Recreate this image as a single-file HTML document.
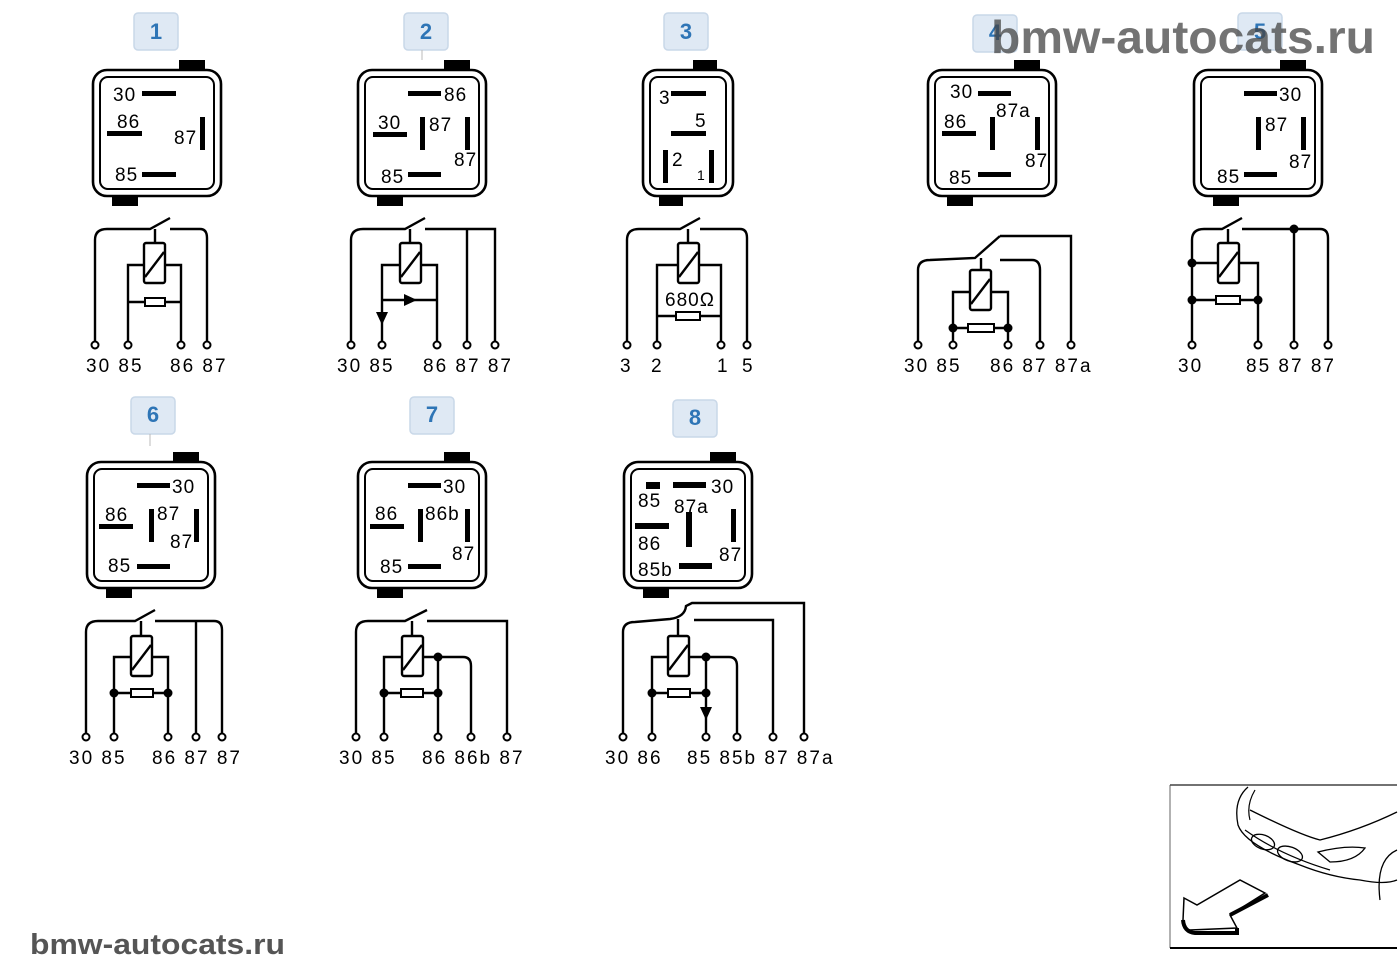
<!DOCTYPE html>
<html><head><meta charset="utf-8"><style>
html,body{margin:0;padding:0;background:#fff;}
svg{display:block;font-family:"Liberation Sans",sans-serif;}
.b{fill:#dfe9f4;stroke:#c9d8e8;stroke-width:1.5;}
.bt{fill:#2e75b6;font-weight:bold;font-size:22px;text-anchor:middle;}
.o{fill:none;stroke:#000;stroke-width:2.6;}
.i{fill:none;stroke:#000;stroke-width:2;}
.w{fill:none;stroke:#000;stroke-width:2.4;}
.t{font-size:19px;fill:#000;letter-spacing:1px;}
.l{font-size:19px;fill:#000;letter-spacing:2px;}
.c{fill:#fff;stroke:#000;stroke-width:2;}
.d{fill:#000;}
</style></head><body>
<svg width="1400" height="980" viewBox="0 0 1400 980" xmlns="http://www.w3.org/2000/svg">
<defs>
<g id="box">
<rect x="0" y="0" width="128" height="126" rx="14" class="o"/>
<rect x="7" y="7" width="114" height="112" rx="8" class="i"/>
<rect x="86" y="-10" width="26" height="10" class="d"/>
<rect x="19" y="126" width="26" height="10" class="d"/>
</g>
<g id="boxn">
<rect x="0" y="0" width="90" height="126" rx="14" class="o"/>
<rect x="7" y="7" width="76" height="112" rx="8" class="i"/>
<rect x="50" y="-10" width="24" height="10" class="d"/>
<rect x="16" y="126" width="24" height="10" class="d"/>
</g>
</defs>

<g>
<rect class="b" x="134" y="13" width="44" height="37" rx="4"/><text class="bt" x="156" y="39">1</text>
<rect class="b" x="404" y="13" width="44" height="37" rx="4"/><text class="bt" x="426" y="39">2</text><line x1="422" y1="50" x2="422" y2="60" stroke="#bbb"/>
<rect class="b" x="664" y="13" width="44" height="37" rx="4"/><text class="bt" x="686" y="39">3</text>
<rect class="b" x="973" y="15" width="44" height="37" rx="4"/><text class="bt" x="995" y="40">4</text>
<rect class="b" x="1238" y="13" width="44" height="37" rx="4"/><text class="bt" x="1260" y="39">5</text>
<rect class="b" x="131" y="397" width="44" height="37" rx="4"/><text class="bt" x="153" y="422">6</text><line x1="150" y1="434" x2="150" y2="446" stroke="#bbb"/>
<rect class="b" x="410" y="397" width="44" height="37" rx="4"/><text class="bt" x="432" y="422">7</text>
<rect class="b" x="673" y="400" width="44" height="37" rx="4"/><text class="bt" x="695" y="425">8</text>
</g>

<!-- Relay 1 -->
<g transform="translate(93,70)"><use href="#box"/>
<text class="t" x="20" y="31">30</text><rect x="49" y="21" width="34" height="5" class="d"/>
<text class="t" x="24" y="58">86</text><rect x="14" y="61" width="35" height="5" class="d"/>
<text class="t" x="81" y="74">87</text><rect x="107" y="47" width="5" height="33" class="d"/>
<text class="t" x="22" y="111">85</text><rect x="49" y="102" width="34" height="5" class="d"/>
</g>
<g>
<path class="w" d="M95,345 V240 Q95,229 107,229 L150,229 L170,218"/>
<path class="w" d="M155,229 V243 M170,229 H200 Q207,229 207,238 V345"/>
<rect x="144" y="243" width="21" height="40" class="w" fill="#fff" rx="2"/><line x1="145" y1="277" x2="164" y2="252" class="w"/>
<path class="w" d="M144,265 H128 V345 M165,265 H181 V345 M128,302 H181"/>
<rect x="145" y="298" width="20" height="8" class="c"/>
<circle class="c" cx="95" cy="345" r="3.5"/><circle class="c" cx="128" cy="345" r="3.5"/><circle class="c" cx="181" cy="345" r="3.5"/><circle class="c" cx="207" cy="345" r="3.5"/>
<text class="l" x="86" y="372">30 85</text><text class="l" x="170" y="372">86 87</text>
</g>

<!-- Relay 2 -->
<g transform="translate(358,70)"><use href="#box"/>
<rect x="50" y="21" width="33" height="5" class="d"/><text class="t" x="86" y="31">86</text>
<text class="t" x="20" y="59">30</text><rect x="15" y="62" width="34" height="5" class="d"/>
<rect x="62" y="47" width="5" height="33" class="d"/><text class="t" x="71" y="61">87</text>
<rect x="107" y="47" width="5" height="33" class="d"/><text class="t" x="96" y="96">87</text>
<text class="t" x="23" y="113">85</text><rect x="50" y="102" width="33" height="5" class="d"/>
</g>
<g>
<path class="w" d="M351,345 V240 Q351,229 363,229 L405,229 L425,218"/>
<path class="w" d="M410,229 V243 M425,229 H495 V345 M467,229 V345"/>
<rect x="400" y="243" width="21" height="40" class="w" fill="#fff" rx="2"/><line x1="401" y1="277" x2="420" y2="252" class="w"/>
<path class="w" d="M400,265 H382 V345 M421,265 H437 V345 M382,300 H437"/>
<path class="d" d="M376,312 L388,312 L382,325 Z"/><path class="d" d="M404,294 L404,306 L417,300 Z"/>
<circle class="c" cx="351" cy="345" r="3.5"/><circle class="c" cx="382" cy="345" r="3.5"/><circle class="c" cx="437" cy="345" r="3.5"/><circle class="c" cx="467" cy="345" r="3.5"/><circle class="c" cx="495" cy="345" r="3.5"/>
<text class="l" x="337" y="372">30  85</text><text class="l" x="423" y="372">86 87 87</text>
</g>

<!-- Relay 3 -->
<g transform="translate(643,70)"><use href="#boxn"/>
<text class="t" x="16" y="34">3</text><rect x="28" y="21" width="35" height="5" class="d"/>
<text class="t" x="52" y="57">5</text><rect x="28" y="61" width="35" height="5" class="d"/>
<rect x="20" y="80" width="5" height="33" class="d"/><text class="t" x="29" y="96">2</text>
<rect x="66" y="80" width="5" height="33" class="d"/><text class="t" x="54" y="110" style="font-size:14px">1</text>
</g>
<g>
<path class="w" d="M627,345 V240 Q627,229 639,229 L680,229 L700,218"/>
<path class="w" d="M688,229 V243 M700,229 H740 Q747,229 747,238 V345"/>
<rect x="678" y="243" width="21" height="40" class="w" fill="#fff" rx="2"/><line x1="679" y1="277" x2="698" y2="252" class="w"/>
<path class="w" d="M678,265 H657 V345 M699,265 H721 V345 M657,316 H721"/>
<rect x="676" y="312" width="24" height="8" class="c"/>
<text class="t" x="665" y="306">680Ω</text>
<circle class="c" cx="627" cy="345" r="3.5"/><circle class="c" cx="657" cy="345" r="3.5"/><circle class="c" cx="721" cy="345" r="3.5"/><circle class="c" cx="747" cy="345" r="3.5"/>
<text class="l" x="620" y="372">3</text><text class="l" x="651" y="372">2</text><text class="l" x="717" y="372">1</text><text class="l" x="742" y="372">5</text>
</g>

<!-- Relay 4 -->
<g transform="translate(928,70)"><use href="#box"/>
<text class="t" x="22" y="28">30</text><rect x="50" y="21" width="33" height="5" class="d"/>
<text class="t" x="68" y="47">87a</text>
<text class="t" x="16" y="58">86</text><rect x="14" y="61" width="34" height="5" class="d"/>
<rect x="62" y="47" width="5" height="33" class="d"/>
<rect x="107" y="47" width="5" height="33" class="d"/><text class="t" x="97" y="97">87</text>
<text class="t" x="21" y="114">85</text><rect x="50" y="102" width="33" height="5" class="d"/>
</g>
<g>
<path class="w" d="M918,345 V270 Q918,260 930,260 L975,258 L1000,236"/>
<path class="w" d="M1000,236 H1071 V345 M981,258 V270 M1000,260 H1032 Q1040,260 1040,270 V345"/>
<rect x="970" y="270" width="21" height="40" class="w" fill="#fff" rx="2"/><line x1="971" y1="304" x2="990" y2="279" class="w"/>
<path class="w" d="M970,292 H953 V345 M991,292 H1008 V345 M953,328 H1008"/>
<rect x="968" y="324" width="26" height="8" class="c"/>
<circle class="d" cx="953" cy="328" r="4.5"/><circle class="d" cx="1008" cy="328" r="4.5"/>
<circle class="c" cx="918" cy="345" r="3.5"/><circle class="c" cx="953" cy="345" r="3.5"/><circle class="c" cx="1008" cy="345" r="3.5"/><circle class="c" cx="1040" cy="345" r="3.5"/><circle class="c" cx="1071" cy="345" r="3.5"/>
<text class="l" x="904" y="372">30  85</text><text class="l" x="990" y="372">86  87  87a</text>
</g>

<!-- Relay 5 -->
<g transform="translate(1194,70)"><use href="#box"/>
<rect x="50" y="21" width="33" height="5" class="d"/><text class="t" x="85" y="31">30</text>
<rect x="62" y="47" width="5" height="33" class="d"/><text class="t" x="71" y="61">87</text>
<rect x="107" y="47" width="5" height="33" class="d"/><text class="t" x="95" y="98">87</text>
<text class="t" x="23" y="113">85</text><rect x="50" y="102" width="33" height="5" class="d"/>
</g>
<g>
<path class="w" d="M1192,345 V240 Q1192,229 1204,229 L1222,229 L1242,218"/>
<path class="w" d="M1228,229 V243 M1242,229 H1320 Q1328,229 1328,238 V345 M1294,229 V345"/>
<rect x="1218" y="243" width="21" height="40" class="w" fill="#fff" rx="2"/><line x1="1219" y1="277" x2="1238" y2="252" class="w"/>
<path class="w" d="M1218,263 H1192 M1239,263 H1258 V345 M1192,300 H1258"/>
<rect x="1216" y="296" width="24" height="8" class="c"/>
<circle class="d" cx="1192" cy="263" r="4.5"/><circle class="d" cx="1192" cy="300" r="4.5"/><circle class="d" cx="1258" cy="300" r="4.5"/><circle class="d" cx="1294" cy="229" r="4.5"/>
<circle class="c" cx="1192" cy="345" r="3.5"/><circle class="c" cx="1258" cy="345" r="3.5"/><circle class="c" cx="1294" cy="345" r="3.5"/><circle class="c" cx="1328" cy="345" r="3.5"/>
<text class="l" x="1178" y="372">30</text><text class="l" x="1246" y="372">85  87  87</text>
</g>

<!-- Relay 6 -->
<g transform="translate(87,462)"><use href="#box"/>
<rect x="50" y="21" width="33" height="5" class="d"/><text class="t" x="85" y="31">30</text>
<text class="t" x="18" y="59">86</text><rect x="12" y="62" width="34" height="5" class="d"/>
<rect x="62" y="47" width="5" height="33" class="d"/><text class="t" x="70" y="58">87</text>
<rect x="107" y="47" width="5" height="33" class="d"/><text class="t" x="83" y="86">87</text>
<text class="t" x="21" y="110">85</text><rect x="50" y="102" width="33" height="5" class="d"/>
</g>
<g>
<path class="w" d="M86,737 V632 Q86,621 98,621 L135,621 L155,610"/>
<path class="w" d="M141,621 V636 M155,621 H214 Q222,621 222,630 V737 M196,621 V737"/>
<rect x="131" y="636" width="21" height="40" class="w" fill="#fff" rx="2"/><line x1="132" y1="670" x2="151" y2="645" class="w"/>
<path class="w" d="M131,657 H114 V737 M152,657 H168 V737 M114,693 H168"/>
<rect x="131" y="689" width="22" height="8" class="c"/>
<circle class="d" cx="114" cy="693" r="4.5"/><circle class="d" cx="168" cy="693" r="4.5"/>
<circle class="c" cx="86" cy="737" r="3.5"/><circle class="c" cx="114" cy="737" r="3.5"/><circle class="c" cx="168" cy="737" r="3.5"/><circle class="c" cx="196" cy="737" r="3.5"/><circle class="c" cx="222" cy="737" r="3.5"/>
<text class="l" x="69" y="764">30  85</text><text class="l" x="152" y="764">86 87 87</text>
</g>

<!-- Relay 7 -->
<g transform="translate(358,462)"><use href="#box"/>
<rect x="50" y="21" width="33" height="5" class="d"/><text class="t" x="85" y="31">30</text>
<text class="t" x="17" y="58">86</text><rect x="12" y="62" width="34" height="5" class="d"/>
<rect x="60" y="47" width="5" height="33" class="d"/><text class="t" x="67" y="58">86b</text>
<rect x="107" y="47" width="5" height="33" class="d"/><text class="t" x="94" y="98">87</text>
<text class="t" x="22" y="111">85</text><rect x="50" y="102" width="33" height="5" class="d"/>
</g>
<g>
<path class="w" d="M356,737 V632 Q356,621 368,621 L405,621 L427,610"/>
<path class="w" d="M412,621 V636 M427,621 H507 V737"/>
<rect x="402" y="636" width="21" height="40" class="w" fill="#fff" rx="2"/><line x1="403" y1="670" x2="422" y2="645" class="w"/>
<path class="w" d="M402,657 H384 V737 M423,657 H463 Q471,657 471,666 V737 M438,657 V737 M384,693 H438"/>
<rect x="401" y="689" width="22" height="8" class="c"/>
<circle class="d" cx="384" cy="693" r="4.5"/><circle class="d" cx="438" cy="693" r="4.5"/><circle class="d" cx="438" cy="657" r="4.5"/>
<circle class="c" cx="356" cy="737" r="3.5"/><circle class="c" cx="384" cy="737" r="3.5"/><circle class="c" cx="438" cy="737" r="3.5"/><circle class="c" cx="471" cy="737" r="3.5"/><circle class="c" cx="507" cy="737" r="3.5"/>
<text class="l" x="339" y="764">30  85</text><text class="l" x="422" y="764">86  86b 87</text>
</g>

<!-- Relay 8 -->
<g transform="translate(624,462)"><use href="#box"/>
<rect x="22" y="20" width="14" height="7" class="d"/>
<rect x="49" y="20" width="33" height="6" class="d"/><text class="t" x="87" y="31">30</text>
<text class="t" x="14" y="45">85</text><text class="t" x="50" y="51">87a</text>
<rect x="11" y="61" width="34" height="6" class="d"/><text class="t" x="14" y="88">86</text>
<rect x="62" y="50" width="6" height="35" class="d"/>
<rect x="107" y="47" width="5" height="33" class="d"/><text class="t" x="95" y="99">87</text>
<text class="t" x="14" y="114">85b</text><rect x="55" y="101" width="33" height="6" class="d"/>
</g>
<g>
<path class="w" d="M623,737 V632 Q623,622 635,622 L670,619 Q685,617 686,606 L692,603 H804 V737"/>
<path class="w" d="M678,619 V636 M694,620 H773 V737"/>
<rect x="668" y="636" width="21" height="40" class="w" fill="#fff" rx="2"/><line x1="669" y1="670" x2="688" y2="645" class="w"/>
<path class="w" d="M668,657 H652 V737 M689,657 H729 Q737,657 737,666 V737 M706,657 V737 M652,693 H706"/>
<rect x="668" y="689" width="22" height="8" class="c"/>
<path class="d" d="M700,707 L712,707 L706,720 Z"/>
<circle class="d" cx="652" cy="693" r="4.5"/><circle class="d" cx="706" cy="693" r="4.5"/><circle class="d" cx="706" cy="657" r="4.5"/>
<circle class="c" cx="623" cy="737" r="3.5"/><circle class="c" cx="652" cy="737" r="3.5"/><circle class="c" cx="706" cy="737" r="3.5"/><circle class="c" cx="737" cy="737" r="3.5"/><circle class="c" cx="773" cy="737" r="3.5"/><circle class="c" cx="804" cy="737" r="3.5"/>
<text class="l" x="605" y="764">30  86</text><text class="l" x="687" y="764">85  85b 87  87a</text>
</g>

<!-- car thumbnail -->
<g>
<line x1="1170" y1="785" x2="1170" y2="948" stroke="#666" stroke-width="1"/>
<line x1="1170" y1="785" x2="1397" y2="785" stroke="#444" stroke-width="1.5"/>
<line x1="1170" y1="948" x2="1397" y2="948" stroke="#000" stroke-width="2"/>
<path d="M1248,787 Q1233,800 1238,825 Q1245,845 1300,865 Q1330,877 1360,880 Q1385,885 1397,880" fill="none" stroke="#000" stroke-width="1.3"/>
<path d="M1250,810 Q1300,835 1320,840 Q1360,830 1397,812" fill="none" stroke="#000" stroke-width="1.3"/>
<path d="M1255,790 Q1246,805 1250,820 M1245,830 Q1280,855 1330,870" fill="none" stroke="#000" stroke-width="1.2"/>
<ellipse cx="1263" cy="842" rx="12" ry="7" transform="rotate(20 1263 842)" fill="none" stroke="#000" stroke-width="1.3"/>
<ellipse cx="1290" cy="854" rx="13" ry="7" transform="rotate(20 1290 854)" fill="none" stroke="#000" stroke-width="1.3"/>
<path d="M1318,852 Q1345,845 1365,848 Q1355,862 1330,862 Z" fill="none" stroke="#000" stroke-width="1.3"/>
<path d="M1380,900 Q1375,860 1397,850" fill="none" stroke="#000" stroke-width="1.3"/>
<path d="M1184,898 L1197,905 L1240,880 L1265,893 L1230,915 L1237,928 L1190,930 Q1182,928 1183,920 Z" fill="#fff" stroke="#000" stroke-width="1.5"/>
<path d="M1183,920 Q1184,932 1195,933 L1237,933 L1237,928 M1230,915 L1268,895" fill="none" stroke="#000" stroke-width="4"/>
</g>

<!-- watermarks -->
<text x="991" y="53" textLength="384" lengthAdjust="spacingAndGlyphs" style="font-size:46px;font-weight:bold;fill:#444;fill-opacity:0.75">bmw-autocats.ru</text>
<text x="30" y="954" textLength="255" lengthAdjust="spacingAndGlyphs" style="font-size:29px;font-weight:bold;fill:#555">bmw-autocats.ru</text>
</svg>
</body></html>
